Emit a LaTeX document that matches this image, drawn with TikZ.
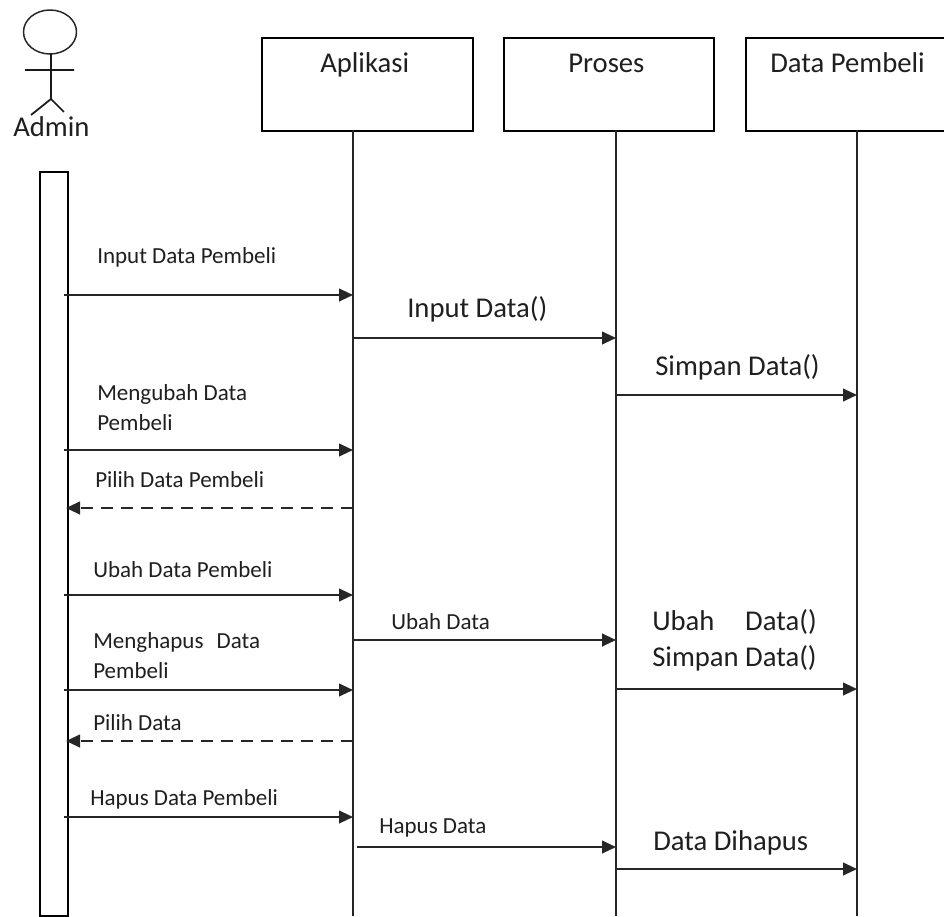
\documentclass[tikz,border=0pt]{standalone}
\usepackage{fontspec}
\setmainfont{Carlito}
\usepackage{calc}
\usetikzlibrary{arrows.meta}
\begin{document}
\begin{tikzpicture}[x=0.75pt,y=-0.75pt,
  txt/.style={anchor=base west,inner sep=0pt,text=black!88},
  lbl/.style={txt,font=\fontsize{17.25}{20}\selectfont},
  big/.style={txt,font=\fontsize{21.5}{25}\selectfont},
  objbox/.style={draw,line width=1.5pt,anchor=north west,inner sep=0pt,minimum height=69.75pt},
  life/.style={line width=1.2pt,black!85},
  msg/.style={line width=1.5pt,black!85,-{Triangle[length=10.5pt,width=9.5pt]}},
  ret/.style={msg,dash pattern=on 9pt off 6pt}]
\useasboundingbox (0,0) rectangle (944,916);
\fill[white] (0,0) rectangle (944,916);

% actor
\draw[line width=1.1pt,black!85] (50,32) ellipse [x radius=26.5,y radius=22];
\draw[line width=1.3pt,black!90] (51,54) -- (51,99) coordinate (hip)
  (25,70) -- (74,70)
  (hip) -- (31,115) (hip) -- (64,112);
\node[big] (admin) at (13,137) {Admin};

% activation bar
\node[draw,line width=1.3pt,anchor=north west,inner sep=0pt,minimum width=21pt,minimum height=558pt] (act) at (39,171) {};

% object boxes
\node[objbox,minimum width=158.25pt] (apl) at (261,37) {};
\node[objbox,minimum width=157.5pt] (pro) at (503,37) {};
\node[objbox,minimum width=157.5pt] (dat) at (745,37) {};
\node[big] (taple) at (320,73) {Aplikasi};
\node[big] (tpro) at (568,73) {Proses};
\node[big] (tdat) at (770,73) {Data Pembeli};

% lifelines
\coordinate (lA) at (353,130);
\coordinate (lP) at (616,130);
\coordinate (lD) at (857,130);
\coordinate (bottom) at (0,916);
\draw[life] (lA) -- (lA |- bottom);
\draw[life] (lP) -- (lP |- bottom);
\draw[life] (lD) -- (lD |- bottom);

\coordinate (aR) at (64,0);
\coordinate (aR2) at (66,0);

% messages
\draw[msg] (aR |- 0,295) -- (lA |- 0,295);
\node[lbl] (m1) at (97,263) {Input Data Pembeli};

\draw[msg] (lA |- 0,338) -- (lP |- 0,338);
\node[big] (m2) at (407,317) {Input Data()};

\draw[msg] (lP |- 0,395) -- (lD |- 0,395);
\node[big] (m3) at (655,375) {Simpan Data()};

\draw[msg] (aR |- 0,450) -- (lA |- 0,450);
\node[lbl] (m4a) at (97,400) {Mengubah Data};
\node[lbl] (m4b) at (97,430) {Pembeli};

\draw[ret] (lA |- 0,508) -- (aR2 |- 0,508);
\node[lbl] (m5) at (95,487) {Pilih Data Pembeli};

\draw[msg] (aR |- 0,595) -- (lA |- 0,595);
\node[lbl] (m6) at (93,577) {Ubah Data Pembeli};

\draw[msg] (lA |- 0,640) -- (lP |- 0,640);
\node[lbl] (m7) at (391,629) {Ubah Data};

\draw[msg] (lP |- 0,689) -- (lD |- 0,689);
\node[big] (m8a) at (652,630) {\makebox[\widthof{Simpan Data()}][s]{Ubah Data()}};
\node[big] (m8b) at (652,666) {Simpan Data()};

\draw[msg] (aR |- 0,690) -- (lA |- 0,690);
\node[lbl] (m9a) at (93,648) {Menghapus\hspace{6pt} Data};
\node[lbl] (m9b) at (93,678) {Pembeli};

\draw[ret] (lA |- 0,741) -- (aR2 |- 0,741);
\node[lbl] (m10) at (93,730) {Pilih Data};

\draw[msg] (aR |- 0,817) -- (lA |- 0,817);
\node[lbl] (m11) at (90,805) {Hapus Data Pembeli};

\coordinate (lA2) at (357,0);
\draw[msg] (lA2 |- 0,847) -- (lP |- 0,847);
\node[lbl] (m12) at (379,833) {Hapus Data};

\draw[msg] (lP |- 0,869) -- (lD |- 0,869);
\node[big] (m13) at (653,850) {Data Dihapus};
\end{tikzpicture}
\end{document}
